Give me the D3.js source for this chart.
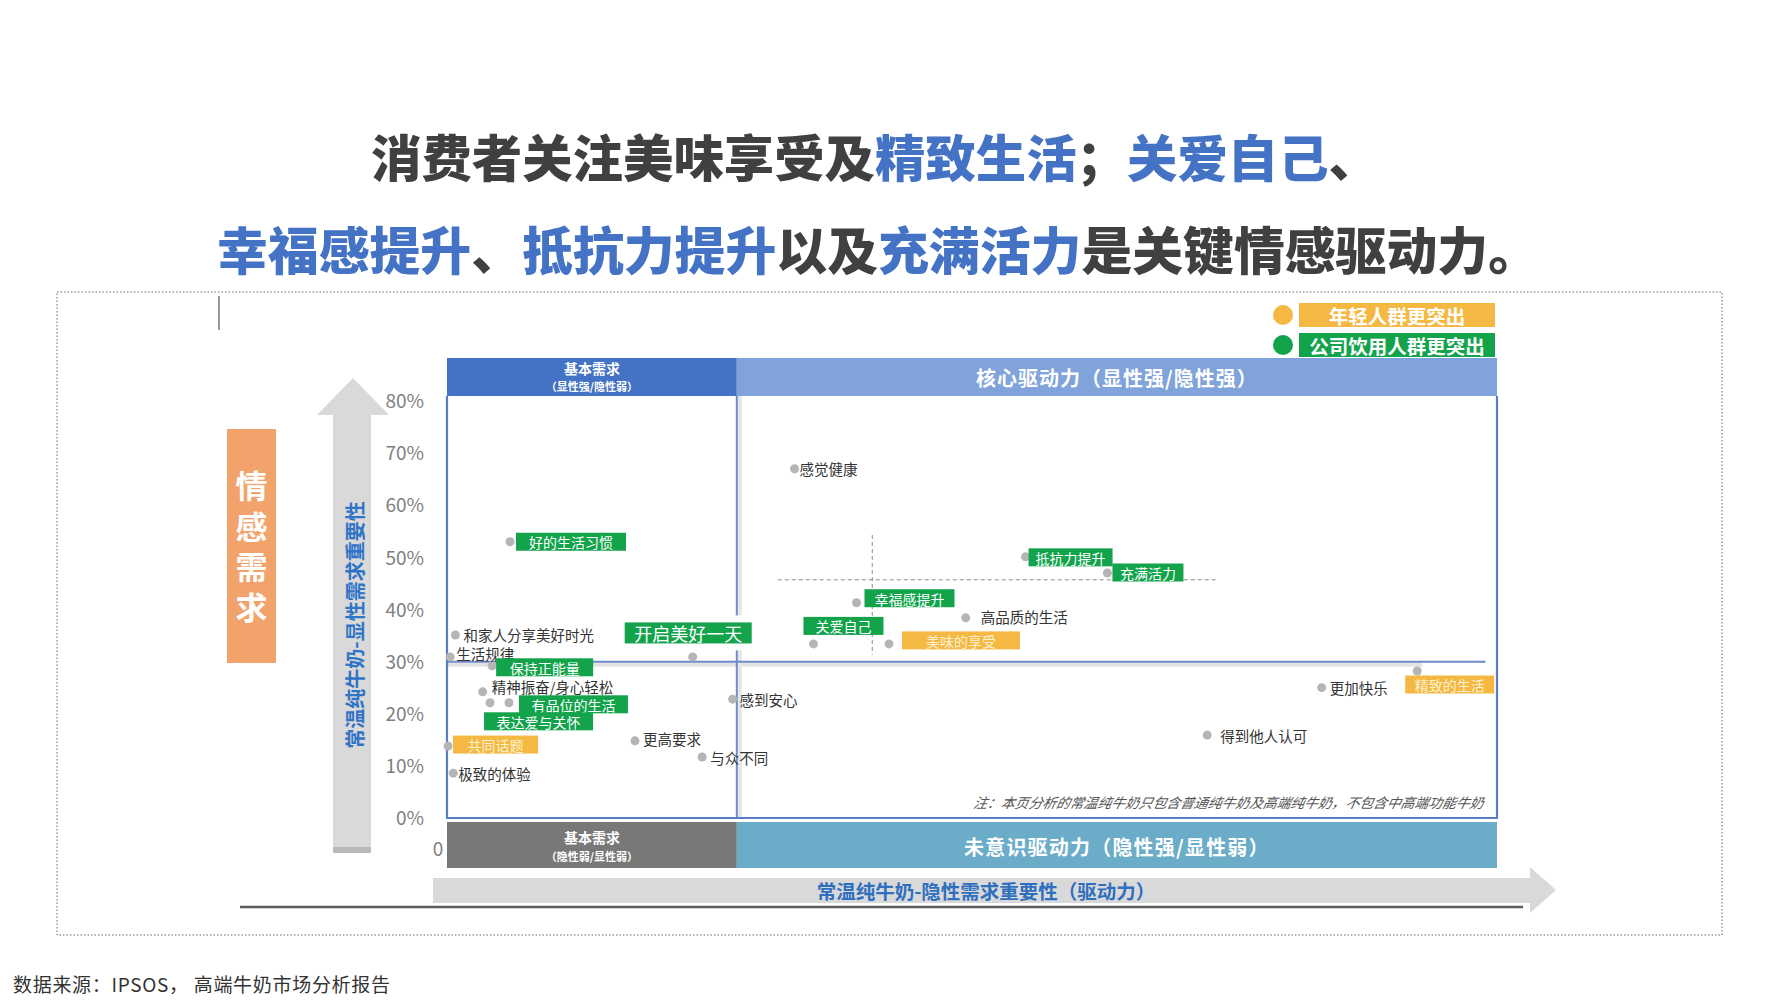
<!DOCTYPE html>
<html><head><meta charset="utf-8">
<script src="https://cdn.jsdelivr.net/npm/d3@7"></script>
<style>
html,body{margin:0;padding:0;background:#fff;}
svg{display:block;}
text{font-family:"Noto Sans CJK SC","Noto Sans",sans-serif;}
</style></head>
<body>
<svg id="c" width="1778" height="1000"></svg>
<script>
// ---------------- data ----------------
const names = ["感觉健康","抵抗力提升","充满活力","幸福感提升","高品质的生活","关爱自己","美味的享受",
  "好的生活习惯","和家人分享美好时光","生活规律","保持正能量","开启美好一天","精神振奋/身心轻松",
  "有品位的生活","表达爱与关怀","共同话题","极致的体验","更高要求","与众不同","感到安心",
  "精致的生活","更加快乐","得到他人认可"];
// implicit importance (driver), arbitrary index units 0-100
const xValues = [33.1,55.1,62.9,39.0,49.4,34.9,42.1, 6.0,0.8,0.3,4.3,23.4,3.4, 5.9,4.1,0.1,0.6,17.9,24.3,27.2, 92.4,83.3,72.4];
// explicit importance (%)
const yValues = [67.0,50.1,47.0,41.3,38.4,33.4,33.4, 53.0,35.1,30.9,29.2,30.9,24.2, 22.1,22.1,13.8,8.6,14.8,11.7,22.8, 28.2,25.0,15.9];
// highlight: "g" 公司饮用人群更突出, "o" 年轻人群更突出, "" none
const highlight = ["","g","g","g","","g","o", "g","","","g","g","", "g","g","o","","","","", "o","",""];
const yTicks = [0,10,20,30,40,50,60,70,80];
const xDomain = [0,100];
const yDomain = [0,80];
const xSplit = 27.6;   // quadrant split on x
const ySplit = 30;     // quadrant split on y
const avgX = 40.5, avgY = 45.7; // dashed reference lines
const legendItems = [{t:"年轻人群更突出",k:"o"},{t:"公司饮用人群更突出",k:"g"}];

// ---------------- layout (label offsets, not data) ----------------
const labelLayout = [
  {dx:5,dy:0},{dx:3,dy:0.5,w:84},{dx:5,dy:-0.5,w:71},{dx:8,dy:-4.5,w:90},{dx:15,dy:-1},{dx:-10,dy:-18,w:80},{dx:13,dy:-3.5,w:118},
  {dx:6,dy:0,w:110},{dx:8,dy:-1},{dx:6,dy:-3},{dx:4,dy:1.5,w:97},{dx:-68,dy:-24,w:127,fs:18,h:21},{dx:9,dy:-5},
  {dx:10,dy:1.5,w:109},{dx:-6,dy:18.5,w:109},{dx:5,dy:-1.5,w:85},{dx:5,dy:0},{dx:8,dy:-2},{dx:8,dy:0},{dx:7,dy:0},
  {dx:-12,dy:13.5,w:89},{dx:8,dy:0},{dx:13,dy:0}
];

const C = {green:"#12a34b", orange:"#f4b843", dark:"#404040", blue:"#4472c4", dot:"#b5b5b5",
  hdrL:"#4472c4", hdrR:"#7fa3da", botL:"#787878", botR:"#6badc8", border:"#5a7ec6"};

const svg = d3.select("#c");
const L = 447, R = 1497, T = 396, B = 818;
const x = d3.scaleLinear().domain(xDomain).range([L, R]);
const y = d3.scaleLinear().domain(yDomain).range([B, 401]);

// dotted frame
svg.append("rect").attr("x",57).attr("y",292).attr("width",1665).attr("height",643)
  .attr("fill","none").attr("stroke","#666").attr("stroke-width",1).attr("stroke-dasharray","1.5,2");
svg.append("line").attr("x1",219).attr("x2",219).attr("y1",296).attr("y2",330).attr("stroke","#333").attr("stroke-width",1);

// title
const t1 = svg.append("text").attr("x",875).attr("y",155).attr("text-anchor","middle")
  .attr("dominant-baseline","central").attr("font-size",50).attr("font-weight",900).attr("textLength",1008).attr("lengthAdjust","spacingAndGlyphs");
[["消费者关注美味享受及",C.dark],["精致生活",C.blue],["；",C.dark],["关爱自己",C.blue],["、",C.dark]]
  .forEach(([s,c])=>t1.append("tspan").attr("fill",c).text(s));
const t2 = svg.append("text").attr("x",878).attr("y",248).attr("text-anchor","middle")
  .attr("dominant-baseline","central").attr("font-size",51).attr("font-weight",900).attr("textLength",1322).attr("lengthAdjust","spacingAndGlyphs");
[["幸福感提升",C.blue],["、",C.dark],["抵抗力提升",C.blue],["以及",C.dark],["充满活力",C.blue],["是关键情感驱动力。",C.dark]]
  .forEach(([s,c])=>t2.append("tspan").attr("fill",c).text(s));

// legend
legendItems.forEach((d,i)=>{
  const cy = 315 + i*30;
  const col = d.k==="o"?C.orange:C.green;
  svg.append("circle").attr("cx",1283).attr("cy",cy).attr("r",10).attr("fill",col);
  svg.append("rect").attr("x",1299).attr("y",cy-12).attr("width",196).attr("height",24).attr("fill",col);
  svg.append("text").attr("x",1397).attr("y",cy).attr("text-anchor","middle").attr("dominant-baseline","central")
    .attr("fill","#fff").attr("font-size",19.5).attr("font-weight",700).text(d.t);
});

// orange side label (one vertical text)
svg.append("rect").attr("x",227).attr("y",429).attr("width",49).attr("height",234).attr("fill","#f2a36b");
svg.append("text").attr("x",251.5).attr("y",470).attr("fill","#fff")
  .attr("font-size",32).attr("font-weight",700)
  .style("writing-mode","vertical-rl").style("letter-spacing","8.5px").text("情感需求");

// vertical arrow
svg.append("path").attr("d","M333,853 L333,415 L317,415 L353,378 L389,415 L371,415 L371,853 Z").attr("fill","#d9d9d9");
svg.append("rect").attr("x",333).attr("y",847).attr("width",38).attr("height",6).attr("fill","#b9b9b9");
svg.append("text").attr("transform","translate(354,625) rotate(-90)").attr("text-anchor","middle")
  .attr("dominant-baseline","central").attr("fill","#2f74c6").attr("font-size",20).attr("font-weight",700)
  .text("常温纯牛奶-显性需求重要性");

// horizontal arrow
svg.append("line").attr("x1",240).attr("x2",1523).attr("y1",907).attr("y2",907).attr("stroke","#5d5d5d").attr("stroke-width",2.5);
svg.append("path").attr("d","M433,878 L1530,878 L1530,867 L1556,890 L1530,913 L1530,903 L433,903 Z").attr("fill","#d9d9d9");
svg.append("text").attr("x",986).attr("y",890).attr("text-anchor","middle").attr("dominant-baseline","central")
  .attr("fill","#2f6fbf").attr("font-size",19.5).attr("font-weight",700).text("常温纯牛奶-隐性需求重要性（驱动力）");

// headers
const xs = x(xSplit);
svg.append("rect").attr("x",L).attr("y",358).attr("width",xs-L).attr("height",T-358).attr("fill",C.hdrL);
svg.append("rect").attr("x",xs).attr("y",358).attr("width",R-xs).attr("height",T-358).attr("fill",C.hdrR);
svg.append("text").attr("x",(L+xs)/2).attr("y",368).attr("text-anchor","middle").attr("dominant-baseline","central")
  .attr("fill","#fff").attr("font-size",14).attr("font-weight",700).text("基本需求");
svg.append("text").attr("x",(L+xs)/2).attr("y",386).attr("text-anchor","middle").attr("dominant-baseline","central")
  .attr("fill","#fff").attr("font-size",11).attr("font-weight",700).text("（显性强/隐性弱）");
svg.append("text").attr("x",(xs+R)/2).attr("y",377).attr("text-anchor","middle").attr("dominant-baseline","central")
  .attr("fill","#fff").attr("font-size",20).attr("font-weight",700).style("letter-spacing","1px").text("核心驱动力（显性强/隐性强）");

// bottom bands
svg.append("rect").attr("x",L).attr("y",822).attr("width",xs-L).attr("height",46).attr("fill",C.botL);
svg.append("rect").attr("x",xs).attr("y",822).attr("width",R-xs).attr("height",46).attr("fill",C.botR);
svg.append("text").attr("x",(L+xs)/2).attr("y",837).attr("text-anchor","middle").attr("dominant-baseline","central")
  .attr("fill","#fff").attr("font-size",14).attr("font-weight",700).text("基本需求");
svg.append("text").attr("x",(L+xs)/2).attr("y",856).attr("text-anchor","middle").attr("dominant-baseline","central")
  .attr("fill","#fff").attr("font-size",11).attr("font-weight",700).text("（隐性弱/显性弱）");
svg.append("text").attr("x",(xs+R)/2).attr("y",846).attr("text-anchor","middle").attr("dominant-baseline","central")
  .attr("fill","#fff").attr("font-size",20).attr("font-weight",700).style("letter-spacing","1.2px").text("未意识驱动力（隐性强/显性弱）");

// plot frame
svg.append("rect").attr("x",L).attr("y",T).attr("width",R-L).attr("height",B-T).attr("fill","#fff");
// y axis ticks
const yAxis = d3.axisLeft(y).tickValues(yTicks).tickFormat(d=>d+"%").tickSize(0).tickPadding(0);
const ga = svg.append("g").attr("transform","translate(424,0)").call(yAxis);
ga.select(".domain").remove();
ga.selectAll("text").attr("fill","#7f7f7f").attr("font-size",19).attr("font-family","'Open Sans',sans-serif").attr("dy","0.35em");
svg.append("text").attr("x",438).attr("y",847).attr("text-anchor","middle").attr("dominant-baseline","central")
  .attr("fill","#7f7f7f").attr("font-size",19).attr("font-family","'Open Sans',sans-serif").text("0");

// quadrant split lines with light shadow
svg.append("line").attr("x1",L).attr("x2",x(92.9)).attr("y1",y(ySplit)+3).attr("y2",y(ySplit)+3).attr("stroke","#e2e2e2").attr("stroke-width",4);
svg.append("line").attr("x1",xs+3).attr("x2",xs+3).attr("y1",T).attr("y2",B).attr("stroke","#e6e6e6").attr("stroke-width",4);
svg.append("line").attr("x1",L).attr("x2",x(98.9)).attr("y1",y(ySplit)).attr("y2",y(ySplit)).attr("stroke","#6d88c8").attr("stroke-width",2);
svg.append("line").attr("x1",xs).attr("x2",xs).attr("y1",T).attr("y2",B).attr("stroke","#6d8ccc").attr("stroke-width",2);
// borders
svg.append("path").attr("d",`M${L},${T} L${L},${B} L${R},${B} L${R},${T}`).attr("fill","none").attr("stroke",C.border).attr("stroke-width",2.2);

// dashed average lines
svg.append("line").attr("x1",x(31.5)).attr("x2",x(73.4)).attr("y1",y(avgY)).attr("y2",y(avgY))
  .attr("stroke","#8c8c8c").attr("stroke-width",1).attr("stroke-dasharray","4,3");
svg.append("line").attr("x1",x(avgX)).attr("x2",x(avgX)).attr("y1",y(54.3)).attr("y2",y(31.3))
  .attr("stroke","#8c8c8c").attr("stroke-width",1).attr("stroke-dasharray","4,3");

// note
svg.append("text").attr("x",1484).attr("y",802).attr("text-anchor","end").attr("dominant-baseline","central")
  .attr("fill","#555").attr("font-size",13.8).attr("font-style","italic")
  .attr("transform","translate(1484,802) skewX(-12) translate(-1484,-802)")
  .text("注：本页分析的常温纯牛奶只包含普通纯牛奶及高端纯牛奶，不包含中高端功能牛奶");

// points
const pts = names.map((n,i)=>({n, x:xValues[i], y:yValues[i], h:highlight[i], lay:labelLayout[i]}));
const gp = svg.append("g");
gp.selectAll("circle").data(pts).join("circle")
  .attr("cx",d=>x(d.x)).attr("cy",d=>y(d.y)).attr("r",4.5).attr("fill",C.dot);

// labels
const gl = svg.append("g");
pts.forEach(d=>{
  const px = x(d.x)+d.lay.dx, py = y(d.y)+d.lay.dy;
  if(d.h){
    const h = d.lay.h||18, fs = d.lay.fs||14;
    const col = d.h==="o"?C.orange:C.green;
    if(d.lay.fs) gl.append("rect").attr("x",px-3).attr("y",py-h/2-7).attr("width",d.lay.w+6).attr("height",h+14).attr("fill","#fff");
    gl.append("rect").attr("x",px).attr("y",py-h/2).attr("width",d.lay.w).attr("height",h).attr("fill",col);
    gl.append("text").attr("x",px+d.lay.w/2).attr("y",py+0.5).attr("text-anchor","middle").attr("dominant-baseline","central")
      .attr("fill",d.h==="o"?"#fdf2d0":"#fff").attr("font-size",fs).text(d.n);
  } else {
    gl.append("text").attr("x",px).attr("y",py).attr("dominant-baseline","central")
      .attr("fill","#333").attr("font-size",14.5).text(d.n);
  }
});

// source
svg.append("text").attr("x",13).attr("y",983).attr("dominant-baseline","central").attr("fill","#333")
  .attr("font-size",19).attr("textLength",377).attr("lengthAdjust","spacing")
  .text("数据来源：IPSOS，  高端牛奶市场分析报告");
</script>
</body></html>
